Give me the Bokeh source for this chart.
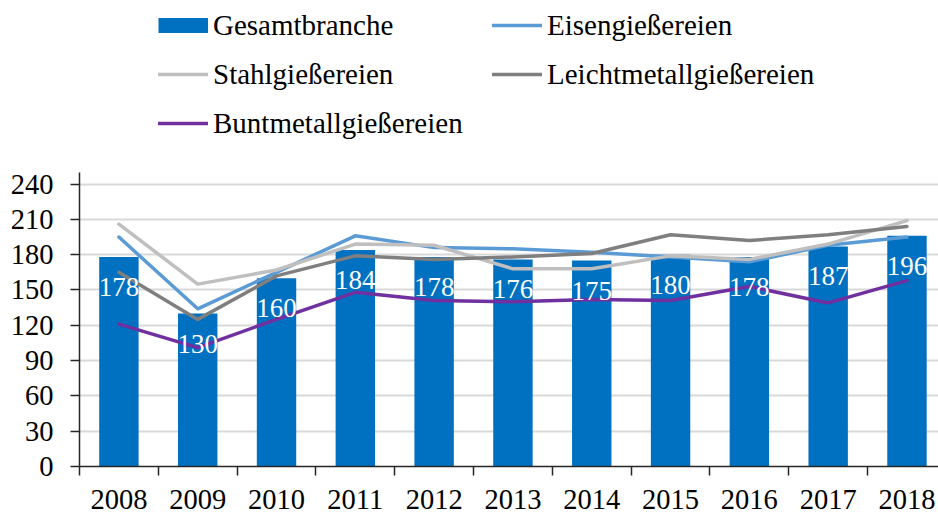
from bokeh.plotting import figure
from bokeh.models import (ColumnDataSource, Range1d, FixedTicker, Legend, LegendItem)
from bokeh.core.properties import value
from bokeh.embed import file_html
from bokeh.resources import INLINE

years = ["2008", "2009", "2010", "2011", "2012", "2013", "2014", "2015", "2016", "2017", "2018"]
gesamt = [178, 130, 160, 184, 178, 176, 175, 180, 178, 187, 196]
eisen = [195, 134, 165, 196, 186, 185, 182, 178, 174, 188, 195]
stahl = [206, 155, 167, 189, 188, 168, 168, 179, 176, 189, 209]
leicht = [165, 125, 162, 179, 176, 178, 181, 197, 192, 197, 204]
bunt = [121, 101, 125, 148, 141, 140, 142, 141, 153, 139, 158]
y_ticks = [0, 30, 60, 90, 120, 150, 180, 210, 240]

FONT = "Liberation Serif"
FS = "29px"
AX_FS = "28.5px"
LAB_FS = "27px"
BLUE = "#0070C0"

idx = list(range(len(years)))
src = ColumnDataSource(dict(x=idx, year=years, gesamt=gesamt, eisen=eisen, stahl=stahl,
                            leicht=leicht, bunt=bunt, lab=[str(v) for v in gesamt]))

p = figure(width=938, height=513, output_backend="svg", toolbar_location=None,
           x_range=Range1d(-0.5, 10.4), y_range=Range1d(0, 396),
           min_border_left=79, min_border_right=0, min_border_top=0, min_border_bottom=47)
p.outline_line_color = None
p.background_fill_color = "white"
p.border_fill_color = "white"

p.vbar(x="x", top="gesamt", width=0.5, source=src, fill_color=BLUE, line_color=None)

series = [("Eisengießereien", "eisen", "#5B9BD5"),
          ("Stahlgießereien", "stahl", "#BFBFBF"),
          ("Leichtmetallgießereien", "leicht", "#7F7F7F"),
          ("Buntmetallgießereien", "bunt", "#7030A0")]
line_r = {}
for name, col, color in series:
    line_r[name] = p.line(x="x", y=col, source=src, line_color=color, line_width=3.5,
                          line_join="round", line_cap="round")

p.text(x="x", y="gesamt", text="lab", source=src, text_color="white",
       text_font=value(FONT), text_font_size=LAB_FS, text_align="center",
       text_baseline="top", y_offset=21)

# hidden renderer that only provides the bar swatch in the legend
swatch = p.line(x="x", y="gesamt", source=src, line_color=BLUE, line_width=15,
                line_cap="butt", visible=False)

items = [LegendItem(label="Gesamtbranche", renderers=[swatch])]
for name, col, color in series:
    items.append(LegendItem(label=name, renderers=[line_r[name]]))

legend = Legend(items=items, orientation="horizontal", ncols=2, location=(79, 323),
                glyph_width=50, glyph_height=40, label_height=40, label_width=270,
                spacing=9, label_standoff=5, padding=0, margin=0,
                border_line_color=None, background_fill_alpha=0,
                inactive_fill_alpha=0,
                label_text_font=FONT, label_text_font_size=FS, label_text_color="black")
p.add_layout(legend, "center")

# axes
p.yaxis.ticker = FixedTicker(ticks=y_ticks)
p.yaxis.bounds = (0, 250)
p.yaxis.major_label_text_font = FONT
p.yaxis.major_label_text_font_size = AX_FS
p.yaxis.major_label_text_color = "black"
p.yaxis.major_tick_out = 9
p.yaxis.major_tick_in = 0
p.yaxis.minor_tick_line_color = None
p.yaxis.major_label_standoff = 17
p.yaxis.axis_line_color = "#262626"
p.yaxis.axis_line_width = 1.5
p.yaxis.major_tick_line_color = "#262626"
p.yaxis.major_tick_line_width = 1.5

p.xaxis.ticker = FixedTicker(ticks=idx, minor_ticks=[i - 0.5 for i in idx] + [len(idx) - 0.5])
p.xaxis.major_label_overrides = {i: y for i, y in zip(idx, years)}
p.xaxis.major_label_text_font = FONT
p.xaxis.major_label_text_font_size = AX_FS
p.xaxis.major_label_text_color = "black"
p.xaxis.major_tick_out = 0
p.xaxis.major_tick_in = 0
p.xaxis.minor_tick_out = 9
p.xaxis.minor_tick_in = 0
p.xaxis.minor_tick_line_color = "#262626"
p.xaxis.minor_tick_line_width = 1.5
p.xaxis.major_label_standoff = 14
p.xaxis.axis_line_color = "#262626"
p.xaxis.axis_line_width = 1.5

p.xgrid.visible = False
p.ygrid.grid_line_color = "#D9D9D9"
p.ygrid.grid_line_width = 2

open("out.html", "w").write(file_html(p, INLINE))
